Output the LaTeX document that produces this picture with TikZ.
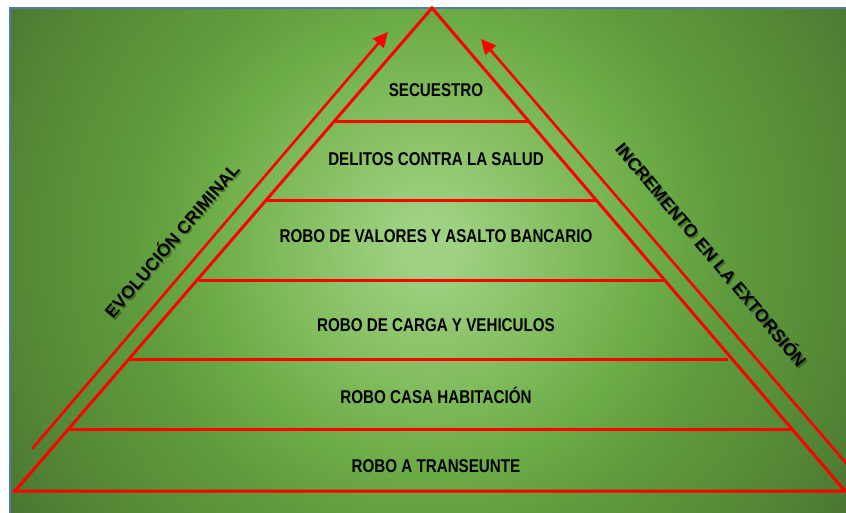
\documentclass[tikz,border=0pt]{standalone}
\usepackage{fontspec}
\setmainfont{Liberation Sans}
\newfontfamily\narrowfont[FakeStretch=0.82]{Liberation Sans}
\usetikzlibrary{arrows.meta,calc}
\definecolor{redline}{HTML}{FF0000}
\definecolor{bordercol}{HTML}{5479A8}
\definecolor{gA}{HTML}{A0D283}
\definecolor{gB}{HTML}{80BB5C}
\definecolor{gC}{HTML}{6CAC46}
\definecolor{gD}{HTML}{5F9B3D}
\definecolor{gE}{HTML}{548735}
\definecolor{gF}{HTML}{4A7631}
\tikzset{
  redln/.style={draw=redline, line width=3pt},
  arrowln/.style={draw=redline, line width=2.6pt, -{Triangle[length=15pt,width=14pt]}},
  levellabel/.style={font=\narrowfont\bfseries\fontsize{18.5}{20}\selectfont, text=black, inner sep=0pt, anchor=base},
  sidelabel/.style={font=\bfseries\fontsize{17.7}{20}\selectfont, text=black, inner sep=0pt, anchor=center},
  sideshadow/.style={font=\bfseries\fontsize{17.7}{20}\selectfont, text=black, text opacity=0.3, inner sep=0pt, anchor=center}
}
\newcommand\bgring[5]{% r0 r1 colour0 colour1 step
  \foreach \rr in {#2,\numexpr#2-#5\relax,...,#1}{%
    \pgfmathsetmacro\pp{(\rr-#1)/(#2-#1)*100}%
    \fill[#4!\pp!#3] (430,245) circle (\rr);
  }%
}
\begin{document}
\begin{tikzpicture}[x=1pt,y=-1pt]
\useasboundingbox (0,0) rectangle (846,513);
\fill[white] (0,0) rectangle (846,513);
\begin{scope}
  \clip (10,8) rectangle (846,513);
  \fill[gF] (10,8) rectangle (846,513);
  \foreach \rr in {500,497,...,420}{\pgfmathsetmacro\pp{(\rr-420)/80*100}\fill[gF!\pp!gE] (430,245) circle (\rr);}
  \foreach \rr in {417,414,...,300}{\pgfmathsetmacro\pp{(\rr-300)/120*100}\fill[gE!\pp!gD] (430,245) circle (\rr);}
  \foreach \rr in {297,294,...,225}{\pgfmathsetmacro\pp{(\rr-225)/75*100}\fill[gD!\pp!gC] (430,245) circle (\rr);}
  \foreach \rr in {222,219,...,150}{\pgfmathsetmacro\pp{(\rr-150)/75*100}\fill[gC!\pp!gB] (430,245) circle (\rr);}
  \foreach \rr in {147,144,...,25}{\pgfmathsetmacro\pp{(\rr-25)/125*100}\fill[gB!\pp!gA] (430,245) circle (\rr);}
\end{scope}
\draw[bordercol, line width=2pt] (10,513) -- (10,8) -- (846,8);

% triangle
\coordinate (apex) at (432,8);
\coordinate (bl) at (15,491);
\coordinate (br) at (845,491);
\draw[redln, line join=miter] (apex) -- (br) -- (bl) -- cycle;

% level lines
\coordinate (l1a) at (334,122); \coordinate (l1b) at (529,122);
\coordinate (l2a) at (267,201); \coordinate (l2b) at (597,201);
\coordinate (l3a) at (199,280); \coordinate (l3b) at (664,280);
\coordinate (l4a) at (130,359); \coordinate (l4b) at (728,359);
\coordinate (l5a) at (70,429);  \coordinate (l5b) at (792,429);
\draw[redln] (l1a) -- (l1b);
\draw[redln] (l2a) -- (l2b);
\draw[redln] (l3a) -- (l3b);
\draw[redln] (l4a) -- (l4b);
\draw[redln] (l5a) -- (l5b);

% arrows
\coordinate (la0) at (32,449);
\coordinate (la1) at (388,32);
\coordinate (ra0) at (852,470);
\coordinate (ra1) at (481,39);
\draw[arrowln] (la0) -- (la1);
\draw[arrowln] (ra0) -- (ra1);

% level labels
\node[levellabel] (t1) at (436,97) {SECUESTRO};
\node[levellabel] (t2) at (436,166) {DELITOS CONTRA LA SALUD};
\node[levellabel] (t3) at (436,243) {ROBO DE VALORES Y ASALTO BANCARIO};
\node[levellabel] (t4) at (436,331.5) {ROBO DE CARGA Y VEHICULOS};
\node[levellabel] (t5) at (436,403.5) {ROBO CASA HABITACIÓN};
\node[levellabel] (t6) at (436,472.5) {ROBO A TRANSEUNTE};

% side labels (with soft shadow)
\node[sideshadow, rotate=49.5] (s1s) at (172.5,241.5) {EVOLUCIÓN CRIMINAL};
\node[sidelabel, rotate=49.5] (s1) at (171,240) {EVOLUCIÓN CRIMINAL};
\node[sideshadow, rotate=-50] (s2s) at (713.5,255.5) {INCREMENTO EN LA EXTORSIÓN};
\node[sidelabel, rotate=-50] (s2) at (712,254) {INCREMENTO EN LA EXTORSIÓN};
\end{tikzpicture}
\end{document}
